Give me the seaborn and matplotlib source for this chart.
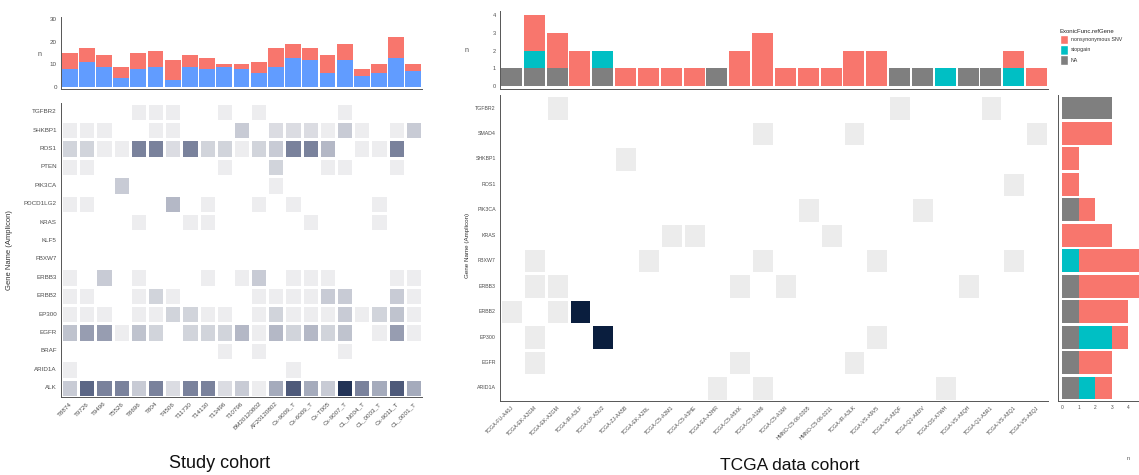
import numpy as np
import pandas as pd
import matplotlib
matplotlib.use("Agg")
import matplotlib.pyplot as plt
import seaborn as sns
from matplotlib.colors import LinearSegmentedColormap
from matplotlib.patches import Patch

# ---------------- data: study cohort ----------------
study_samples = ["T8874", "T9726", "T9496", "T5526", "T8696", "T804", "T4506",
                 "T11730", "T14130", "T13496", "T10796", "BM20120802", "AF20120802",
                 "Cx-9009_T", "Cx-6009_T", "Cx-T005", "Cx-9007_T", "CL_N004_T",
                 "CL_0003_T", "Cx-9011_T", "CL_0001_T"]
study_blue = [8, 11, 9, 4, 8, 9, 3, 9, 8, 9, 8, 6, 9, 13, 12, 6, 12, 5, 6, 13, 7]
study_red = [7, 6, 5, 5, 7, 7, 9, 5, 5, 1, 2, 5, 8, 6, 5, 8, 7, 3, 4, 9, 3]

study_genes = ["TGFBR2", "SHKBP1", "ROS1", "PTEN", "PIK3CA", "PDCD1LG2", "KRAS", "KLF5",
               "FBXW7", "ERBB3", "ERBB2", "EP300", "EGFR", "BRAF", "ARID1A", "ALK"]
s_TGFBR2 = [0, 0, 0, 0, 1, 1, 1, 0, 0, 1, 0, 1, 0, 0, 0, 0, 1, 0, 0, 0, 0]
s_SHKBP1 = [1, 1, 1, 0, 0, 1, 1, 0, 0, 0, 3, 0, 2, 2, 2, 1, 3, 1, 0, 1, 3]
s_ROS1 = [2.5, 2.5, 1, 1, 6, 6, 2, 6, 2.5, 2.5, 1, 2.5, 3, 6, 6, 4, 0, 1, 1, 6, 0]
s_PTEN = [1, 1, 0, 0, 0, 0, 0, 0, 0, 1, 0, 0, 2.5, 0, 0, 1, 1, 0, 0, 1, 0]
s_PIK3CA = [0, 0, 0, 3, 0, 0, 0, 0, 0, 0, 0, 0, 1, 0, 0, 0, 0, 0, 0, 0, 0]
s_PDCD1LG2 = [1, 1, 0, 0, 0, 0, 4, 0, 1, 0, 0, 1, 0, 1, 0, 0, 0, 0, 1, 0, 0]
s_KRAS = [0, 0, 0, 0, 1, 0, 0, 1, 1, 0, 0, 0, 0, 0, 1, 0, 0, 0, 1, 0, 0]
s_KLF5 = [0] * 21
s_FBXW7 = [0] * 21
s_ERBB3 = [1, 0, 3, 0, 1, 0, 0, 0, 1, 0, 1, 3, 0, 1, 1, 1, 0, 0, 0, 1, 1]
s_ERBB2 = [1, 1, 0, 0, 1, 2.5, 1, 0, 0, 0, 0, 1, 1, 1, 1, 3, 3, 0, 0, 3, 1]
s_EP300 = [1, 1, 1, 0, 1, 1, 2.5, 2.5, 1, 1, 0, 1, 2.5, 1, 1, 1, 3, 1, 2.5, 3.5, 1]
s_EGFR = [3.5, 5, 5, 1, 3.5, 2.5, 0, 2.5, 2.5, 2.5, 4, 1, 4, 2.5, 4, 2.5, 3.5, 0, 1, 5, 1]
s_BRAF = [0, 0, 0, 0, 0, 0, 0, 0, 0, 1, 0, 1, 0, 0, 0, 0, 1, 0, 0, 0, 0]
s_ARID1A = [1, 0, 0, 0, 0, 0, 0, 0, 0, 0, 0, 0, 0, 1, 0, 0, 0, 0, 0, 0, 0]
s_ALK = [3, 7, 6, 6, 3, 6, 2, 6, 6, 2, 3, 1, 4.5, 7.5, 4.5, 3, 9, 6, 4.5, 7.5, 4.5]

# ---------------- data: TCGA cohort ----------------
tcga_samples = ["TCGA-FU-A40J", "TCGA-EK-A3GM", "TCGA-EK-A2GM", "TCGA-IR-A3LF",
                "TCGA-LP-A5U2", "TCGA-ZJ-AA5B", "TCGA-EK-A2RL", "TCGA-C5-A2M1",
                "TCGA-C5-A3HE", "TCGA-EA-A3HR", "TCGA-C5-A8XK", "TCGA-C5-A1M6",
                "TCGA-C5-A1MI", "HMNO-C5-06-0305", "HMNO-C5-06-0211", "TCGA-IR-A3LK",
                "TCGA-VS-A9V5", "TCGA-VS-A8QF", "TCGA-Q1-A6DV", "TCGA-DS-A7WH",
                "TCGA-VS-A8QH", "TCGA-Q1-A5R1", "TCGA-VS-A8Q1", "TCGA-VS-A8QJ"]
tcga_na = [1, 1, 1, 0, 1, 0, 0, 0, 0, 1, 0, 0, 0, 0, 0, 0, 0, 1, 1, 0, 1, 1, 0, 0]
tcga_stop = [0, 1, 0, 0, 1, 0, 0, 0, 0, 0, 0, 0, 0, 0, 0, 0, 0, 0, 0, 1, 0, 0, 1, 0]
tcga_nonsyn = [0, 2, 2, 2, 0, 1, 1, 1, 1, 0, 2, 3, 1, 1, 1, 2, 2, 0, 0, 0, 0, 0, 1, 1]

tcga_genes = ["TGFBR2", "SMAD4", "SHKBP1", "ROS1", "PIK3CA", "KRAS", "FBXW7",
              "ERBB3", "ERBB2", "EP300", "EGFR", "ARID1A"]
t_TGFBR2 = [0, 0, 1, 0, 0, 0, 0, 0, 0, 0, 0, 0, 0, 0, 0, 0, 0, 1, 0, 0, 0, 1, 0, 0]
t_SMAD4 = [0, 0, 0, 0, 0, 0, 0, 0, 0, 0, 0, 1, 0, 0, 0, 1, 0, 0, 0, 0, 0, 0, 0, 1]
t_SHKBP1 = [0, 0, 0, 0, 0, 1, 0, 0, 0, 0, 0, 0, 0, 0, 0, 0, 0, 0, 0, 0, 0, 0, 0, 0]
t_ROS1 = [0, 0, 0, 0, 0, 0, 0, 0, 0, 0, 0, 0, 0, 0, 0, 0, 0, 0, 0, 0, 0, 0, 1, 0]
t_PIK3CA = [0, 0, 0, 0, 0, 0, 0, 0, 0, 0, 0, 0, 0, 1, 0, 0, 0, 0, 1, 0, 0, 0, 0, 0]
t_KRAS = [0, 0, 0, 0, 0, 0, 0, 1, 1, 0, 0, 0, 0, 0, 1, 0, 0, 0, 0, 0, 0, 0, 0, 0]
t_FBXW7 = [0, 1, 0, 0, 0, 0, 1, 0, 0, 0, 0, 1, 0, 0, 0, 0, 1, 0, 0, 0, 0, 0, 1, 0]
t_ERBB3 = [0, 1, 1, 0, 0, 0, 0, 0, 0, 0, 1, 0, 1, 0, 0, 0, 0, 0, 0, 0, 1, 0, 0, 0]
t_ERBB2 = [1, 0, 1, 2, 0, 0, 0, 0, 0, 0, 0, 0, 0, 0, 0, 0, 0, 0, 0, 0, 0, 0, 0, 0]
t_EP300 = [0, 1, 0, 0, 2, 0, 0, 0, 0, 0, 0, 0, 0, 0, 0, 0, 1, 0, 0, 0, 0, 0, 0, 0]
t_EGFR = [0, 1, 0, 0, 0, 0, 0, 0, 0, 0, 1, 0, 0, 0, 0, 1, 0, 0, 0, 0, 0, 0, 0, 0]
t_ARID1A = [0, 0, 0, 0, 0, 0, 0, 0, 0, 1, 0, 1, 0, 0, 0, 0, 0, 0, 0, 1, 0, 0, 0, 0]

gene_na = [3, 0, 0, 0, 1, 0, 0, 1, 1, 1, 1, 1]
gene_stop = [0, 0, 0, 0, 0, 0, 1, 0, 0, 2, 0, 1]
gene_nonsyn = [0, 3, 1, 1, 1, 3, 4, 4, 3, 1, 2, 1]

legend_labels = ["nonsynonymous SNV", "stopgain", "NA"]

# ---------------- style ----------------
RED = "#F8766D"
BLUE = "#619CFF"
TEAL = "#00BFC4"
GRAY = "#7F7F7F"
AXC = "#555555"
TXC = "#4D4D4D"

sns.set_theme(style="white")
plt.rcParams["font.family"] = ["Liberation Sans", "DejaVu Sans"]

W, H = 1139, 475
fig = plt.figure(figsize=(W / 100, H / 100), dpi=100)


def add_ax(x0, y0, x1, y1):
    return fig.add_axes([x0 / W, 1 - y1 / H, (x1 - x0) / W, (y1 - y0) / H])


def style_ax(ax, size=4.5):
    sns.despine(ax=ax)
    for s in ["left", "bottom"]:
        ax.spines[s].set_visible(True)
        ax.spines[s].set_color(AXC)
        ax.spines[s].set_linewidth(0.7)
    ax.tick_params(length=2, width=0.5, color=AXC, labelcolor=TXC, labelsize=size, pad=1)
    ax.set_xlabel("")
    ax.set_ylabel("")


# ---------------- left: bar ----------------
ax1 = add_ax(61, 16.5, 422, 89)
study_total = np.array(study_blue) + np.array(study_red)
sns.barplot(x=study_samples, y=study_total, order=study_samples, color=RED,
            width=0.92, linewidth=0, saturation=1, ax=ax1)
sns.barplot(x=study_samples, y=study_blue, order=study_samples, color=BLUE,
            width=0.92, linewidth=0, saturation=1, ax=ax1)
ax1.set_ylim(-0.8, 31)
ax1.set_yticks([0, 10, 20, 30])
ax1.set_xticks(range(len(study_samples)))
ax1.set_xticklabels([])
style_ax(ax1, 4.5)
fig.text(40 / W, 1 - 55 / H, "n", fontsize=5, color=TXC, ha="center", va="center")

# ---------------- left: heatmap ----------------
ax2 = add_ax(61, 102.5, 422, 397)
study_df = pd.DataFrame([s_TGFBR2, s_SHKBP1, s_ROS1, s_PTEN, s_PIK3CA, s_PDCD1LG2,
                         s_KRAS, s_KLF5, s_FBXW7, s_ERBB3, s_ERBB2, s_EP300, s_EGFR,
                         s_BRAF, s_ARID1A, s_ALK], index=study_genes, columns=study_samples)
cmap_l = LinearSegmentedColormap.from_list("l", ["#EDEDEF", "#B9BDCA", "#66708E", "#13264A"])
sns.heatmap(study_df, mask=study_df == 0, cmap=cmap_l, vmin=1, vmax=9.5, cbar=False,
            linewidths=0.9, linecolor="white", ax=ax2)
style_ax(ax2, 4.5)
ax2.set_yticklabels(study_genes, rotation=0)
ax2.set_xticklabels(study_samples, rotation=45, ha="right", rotation_mode="anchor")
fig.text(10 / W, 1 - 250 / H, "Gene Name (Amplicon)", fontsize=5.5, color="#333333",
         rotation=90, ha="center", va="center")
fig.text(220 / W, 1 - 463 / H, "Study cohort", fontsize=13, color="#111111",
         ha="center", va="center")

# ---------------- right: bar ----------------
ax3 = add_ax(500, 11.5, 1048, 88.5)
c1 = np.array(tcga_na)
c2 = c1 + np.array(tcga_stop)
c3 = c2 + np.array(tcga_nonsyn)
for vals, col in [(c3, RED), (c2, TEAL), (c1, GRAY)]:
    sns.barplot(x=tcga_samples, y=vals, order=tcga_samples, color=col, width=0.92,
                linewidth=0, saturation=1, ax=ax3)
ax3.set_ylim(-0.14, 4.2)
ax3.set_yticks([0, 1, 2, 3, 4])
ax3.set_xticks(range(len(tcga_samples)))
ax3.set_xticklabels([])
style_ax(ax3, 4)
fig.text(467 / W, 1 - 50 / H, "n", fontsize=5, color=TXC, ha="center", va="center")

handles = [Patch(facecolor=RED, label=legend_labels[0]),
           Patch(facecolor=TEAL, label=legend_labels[1]),
           Patch(facecolor=GRAY, label=legend_labels[2])]
leg = fig.legend(handles=handles, title="ExonicFunc.refGene", loc="upper left",
                 bbox_to_anchor=(1060 / W, 1 - 29 / H), frameon=False, fontsize=3.8,
                 title_fontsize=4.3, handlelength=1.5, handleheight=2.5,
                 labelspacing=0.1, borderaxespad=0, borderpad=0, alignment="left",
                 handletextpad=0.6)
for t in leg.get_texts():
    t.set_color("#333333")

# ---------------- right: heatmap ----------------
ax4 = add_ax(500, 95.3, 1048, 400.7)
tcga_df = pd.DataFrame([t_TGFBR2, t_SMAD4, t_SHKBP1, t_ROS1, t_PIK3CA, t_KRAS, t_FBXW7,
                        t_ERBB3, t_ERBB2, t_EP300, t_EGFR, t_ARID1A],
                       index=tcga_genes, columns=tcga_samples)
cmap_r = LinearSegmentedColormap.from_list("r", ["#ECECEC", "#0A1E3E"])
sns.heatmap(tcga_df, mask=tcga_df == 0, cmap=cmap_r, vmin=1, vmax=2, cbar=False,
            linewidths=0.9, linecolor="white", ax=ax4)
style_ax(ax4, 3.8)
ax4.set_yticklabels(tcga_genes, rotation=0)
ax4.set_xticklabels(tcga_samples, rotation=45, ha="right", rotation_mode="anchor")
fig.text(468 / W, 1 - 245 / H, "Gene Name (Amplicon)", fontsize=4.5, color="#333333",
         rotation=90, ha="center", va="center")
fig.text(790 / W, 1 - 466 / H, "TCGA data cohort", fontsize=12.5, color="#111111",
         ha="center", va="center")

# ---------------- right: side bar ----------------
ax5 = add_ax(1058, 95.3, 1139, 400.7)
g1 = np.array(gene_na)
g2 = g1 + np.array(gene_stop)
g3 = g2 + np.array(gene_nonsyn)
for vals, col in [(g3, RED), (g2, TEAL), (g1, GRAY)]:
    sns.barplot(x=vals, y=tcga_genes, order=tcga_genes, orient="h", color=col,
                width=0.9, linewidth=0, saturation=1, ax=ax5)
ax5.set_xlim(-0.24, 4.64)
ax5.set_xticks([0, 1, 2, 3, 4])
ax5.set_yticklabels([])
style_ax(ax5, 3.5)
fig.text(1128 / W, 1 - 458 / H, "n", fontsize=4, color=TXC, ha="center", va="center")

fig.savefig("out.png", dpi=100)
